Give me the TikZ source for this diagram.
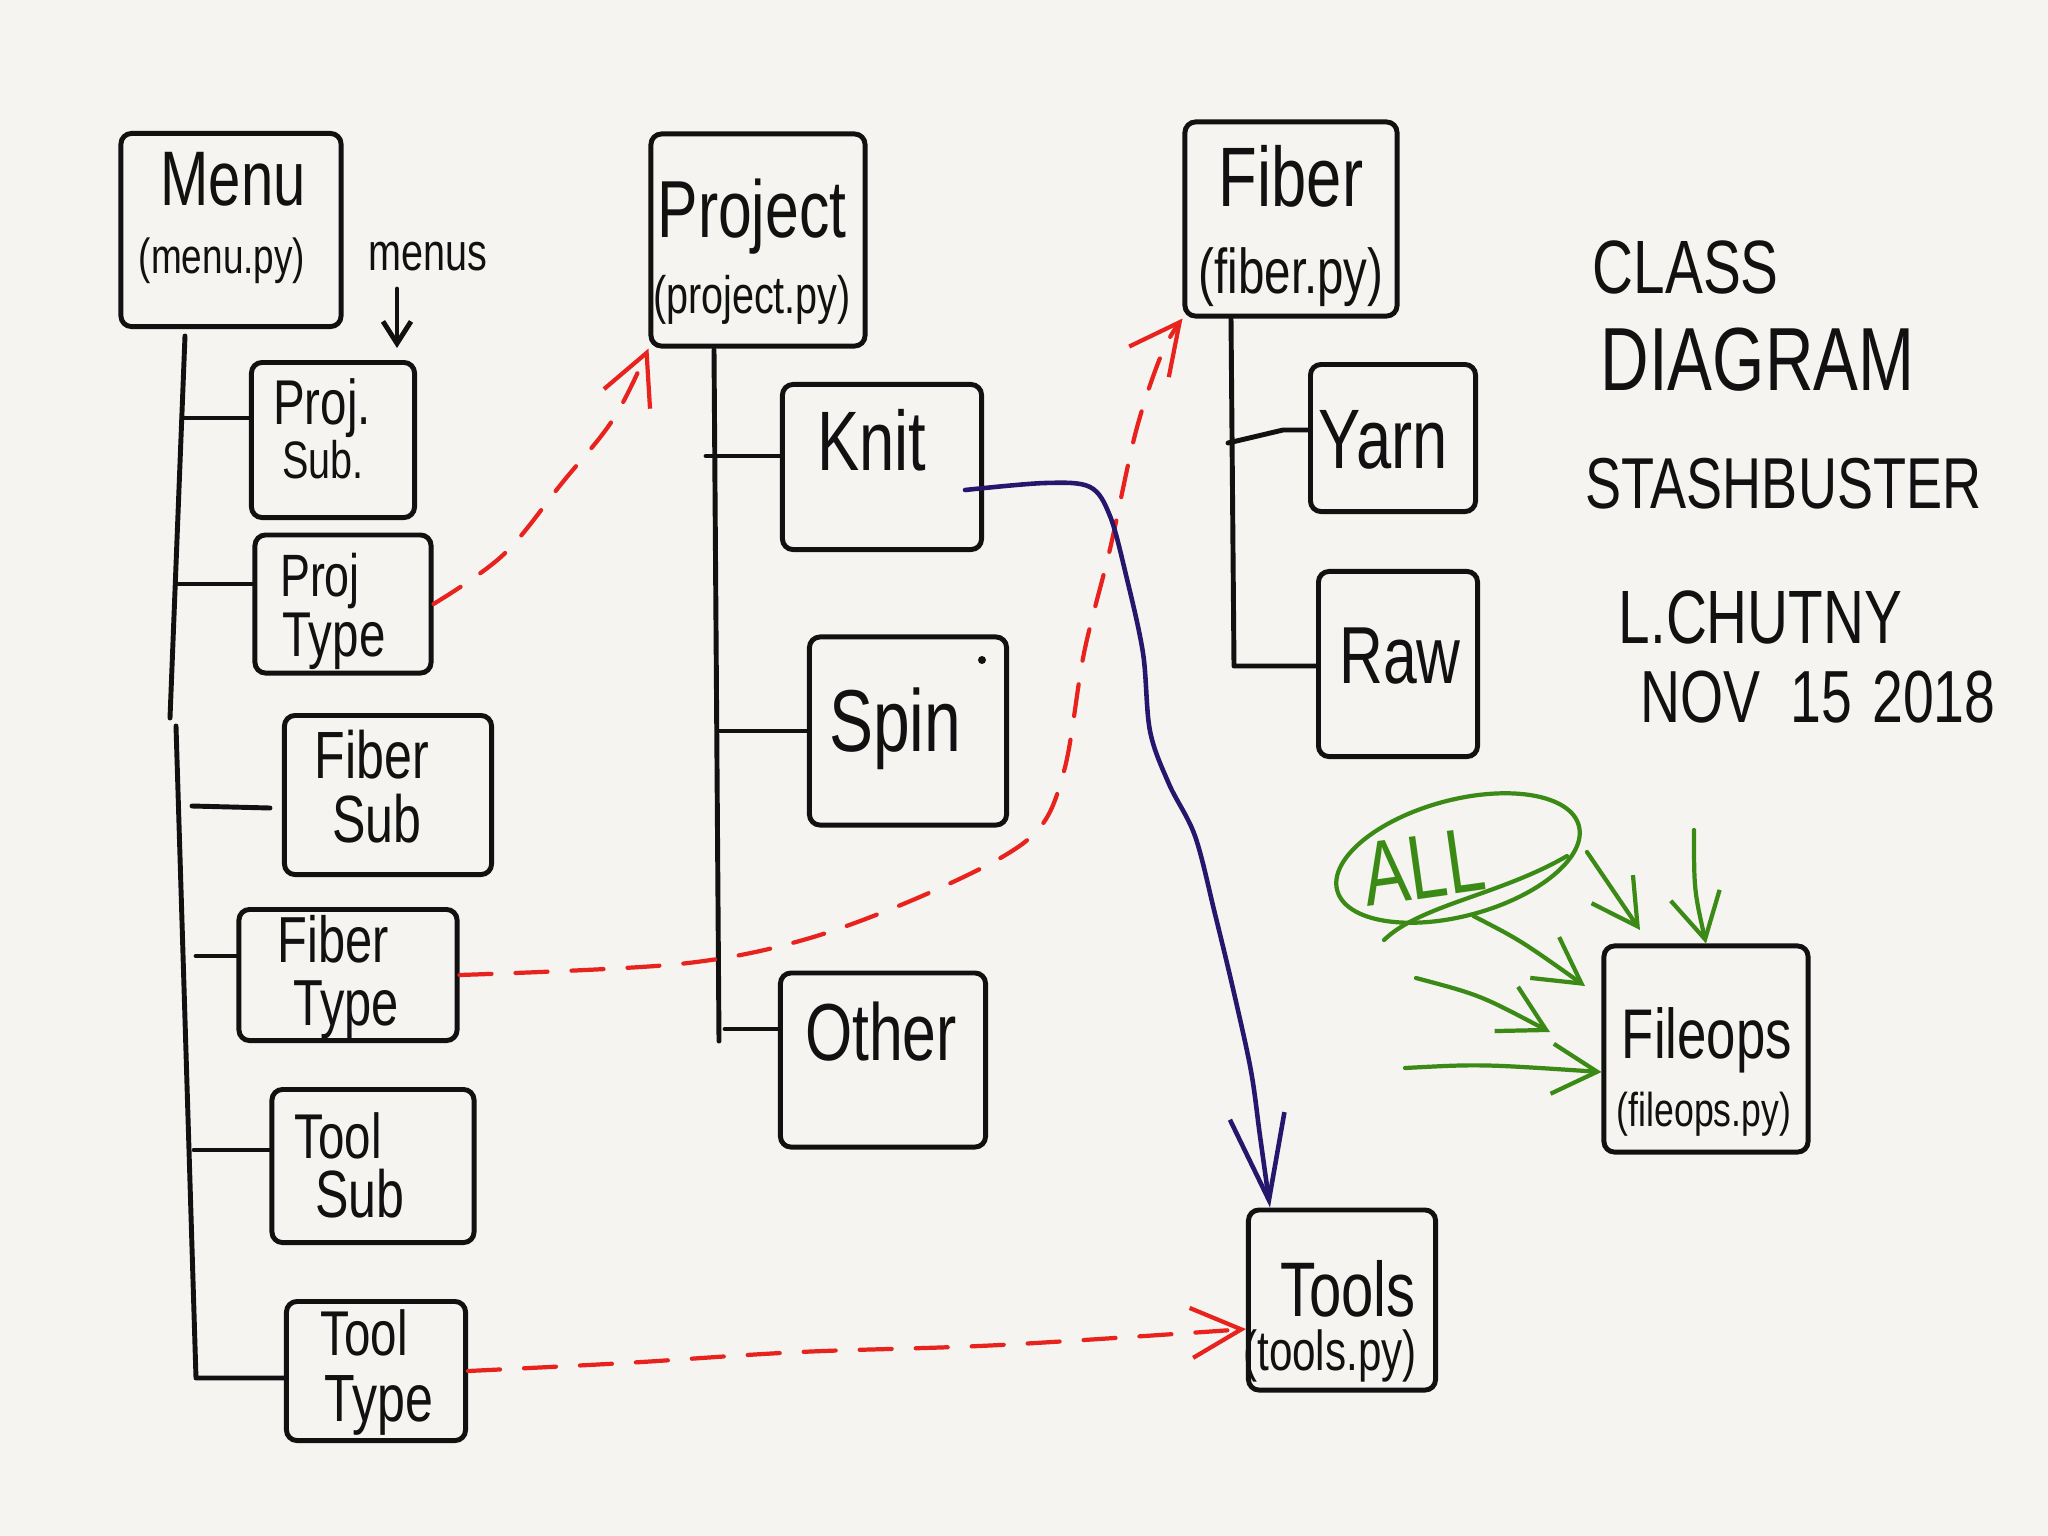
\documentclass[tikz,border=0pt]{standalone}
\usepackage{fontspec}
\setmainfont{Liberation Sans}[FakeStretch=0.75]
\usetikzlibrary{arrows.meta,shapes.geometric}
\definecolor{bg}{HTML}{F5F4F0}
\definecolor{pen}{HTML}{111111}
\definecolor{redpen}{HTML}{E8231E}
\definecolor{navypen}{HTML}{24176C}
\definecolor{greenpen}{HTML}{3B8A16}
\newcommand{\fsz}[1]{\fontsize{#1}{#1}\selectfont}
\begin{document}
\begin{tikzpicture}[x=0.01cm,y=-0.01cm,
  box/.style={draw=pen, line width=1.4pt, rounded corners=3pt, inner sep=0pt},
  lbl/.style={anchor=base, inner sep=0pt, text=pen},
  ttl/.style={anchor=base west, inner sep=0pt, text=pen},
  wire/.style={draw=pen, line width=1.4pt, line cap=round, line join=round},
  reddash/.style={draw=redpen, line width=1.2pt, line cap=round, dash pattern=on 0.32cm off 0.24cm, -{Straight Barb[length=5mm,width=5mm]}},
  navyarrow/.style={draw=navypen, line width=1.3pt, line cap=round, -{Straight Barb[length=8.5mm,width=5.5mm]}},
  garrow/.style={draw=greenpen, line width=1.2pt, line cap=round, -{Straight Barb[length=4.5mm,width=5mm]}},
  gline/.style={draw=greenpen, line width=1.2pt, line cap=round}
]
\fill[bg] (0,0) rectangle (2048,1536);
\useasboundingbox (0,0) rectangle (2048,1536);

% ---------- boxes ----------
\node[box, minimum width=2.20cm, minimum height=1.93cm] (menu) at (231,230) {};
\node[box, minimum width=1.63cm, minimum height=1.55cm] (projsub) at (333,440) {};
\node[box, minimum width=1.76cm, minimum height=1.38cm] (projtype) at (343,604) {};
\node[box, minimum width=2.07cm, minimum height=1.59cm] (fibersub) at (388,795) {};
\node[box, minimum width=2.18cm, minimum height=1.31cm] (fibertype) at (348,975) {};
\node[box, minimum width=2.02cm, minimum height=1.53cm] (toolsub) at (373,1166) {};
\node[box, minimum width=1.79cm, minimum height=1.39cm] (tooltype) at (376,1371) {};
\node[box, minimum width=2.14cm, minimum height=2.12cm] (project) at (758,240) {};
\node[box, minimum width=1.99cm, minimum height=1.65cm] (knit) at (882,467) {};
\node[box, minimum width=1.97cm, minimum height=1.88cm] (spin) at (908,731) {};
\node[box, minimum width=2.05cm, minimum height=1.74cm] (other) at (883,1060) {};
\node[box, minimum width=2.12cm, minimum height=1.94cm] (fiber) at (1291,219) {};
\node[box, minimum width=1.65cm, minimum height=1.47cm] (yarn) at (1393,438) {};
\node[box, minimum width=1.59cm, minimum height=1.85cm] (raw) at (1398,664) {};
\node[box, minimum width=1.87cm, minimum height=1.80cm] (tools) at (1342,1300) {};
\node[box, minimum width=2.04cm, minimum height=2.06cm] (fileops) at (1706,1049) {};

% ---------- box texts ----------
\node[lbl, font=\fsz{22}] (menu-a) at (233,205) {Menu};
\node[lbl, font=\fsz{14}] (menu-b) at (222,273) {(menu.py)};
\node[lbl, font=\fsz{15}] (menus) at (428,270) {menus};
\node[lbl, font=\fsz{18}] (projsub-a) at (322,424) {Proj.};
\node[lbl, font=\fsz{15}] (projsub-b) at (323,478) {Sub.};
\node[lbl, font=\fsz{17}] (projtype-a) at (320,596) {Proj};
\node[lbl, font=\fsz{18}] (projtype-b) at (334,656) {Type};
\node[lbl, font=\fsz{19}] (fibersub-a) at (372,778) {Fiber};
\node[lbl, font=\fsz{19}] (fibersub-b) at (377,842) {Sub};
\node[lbl, font=\fsz{18.5}] (fibertype-a) at (333,962) {Fiber};
\node[lbl, font=\fsz{18.5}] (fibertype-b) at (346,1025) {Type};
\node[lbl, font=\fsz{18}] (toolsub-a) at (338,1158) {Tool};
\node[lbl, font=\fsz{19}] (toolsub-b) at (360,1217) {Sub};
\node[lbl, font=\fsz{18}] (tooltype-a) at (364,1355) {Tool};
\node[lbl, font=\fsz{19}] (tooltype-b) at (379,1421) {Type};
\node[lbl, font=\fsz{23}] (project-a) at (752,237) {Project};
\node[lbl, font=\fsz{15}] (project-b) at (752,313) {(project.py)};
\node[lbl, font=\fsz{24}] (knit-a) at (872,470) {Knit};
\node[lbl, font=\fsz{25}] (spin-a) at (895,751) {Spin};
\node[lbl, font=\fsz{23}] (other-a) at (881,1060) {Other};
\node[lbl, font=\fsz{24}] (fiber-a) at (1291,206) {Fiber};
\node[lbl, font=\fsz{18}] (fiber-b) at (1291,293) {(fiber.py)};
\node[lbl, font=\fsz{24}] (yarn-a) at (1383,468) {Yarn};
\node[lbl, font=\fsz{23}] (raw-a) at (1400,683) {Raw};
\node[lbl, font=\fsz{22}] (tools-a) at (1348,1316) {Tools};
\node[lbl, font=\fsz{16}] (tools-b) at (1330,1370) {(tools.py)};
\node[lbl, font=\fsz{20}] (fileops-a) at (1707,1058) {Fileops};
\node[lbl, font=\fsz{13.5}] (fileops-b) at (1704,1126) {(fileops.py)};
\fill[pen] (982,660) circle (0.04cm);

% ---------- title ----------
\node[ttl, font=\fsz{21.5}] (t1) at (1592,293) {CLASS};
\node[ttl, font=\fsz{25.5}] (t2) at (1600,390) {DIAGRAM};
\node[ttl, font=\fsz{20.5}] (t3) at (1585,508) {STASHBUSTER};
\node[ttl, font=\fsz{21.5}] (t4) at (1618,643) {L.CHUTNY};
\node[ttl, font=\fsz{21}] (t5) at (1640,722) {NOV\hspace{0.3cm}15\hspace{0.2cm}2018};

% ---------- menus arrow ----------
\coordinate (ma0) at (397,289);
\coordinate (ma1) at (397,348);
\draw[wire, -{Straight Barb[length=2.2mm,width=2.8mm]}] (ma0) -- (ma1);

% ---------- menu tree ----------
\coordinate (mt1) at (185,336);
\coordinate (mt2) at (170,718);
\coordinate (mt3) at (176,726);
\coordinate (mt4) at (196,1378);
\draw[wire] (mt1) -- (mt2);
\draw[wire] (mt3) -- (mt4) -- (mt4 -| tooltype.west);
\coordinate (c1) at (182,418);
\coordinate (c2) at (176,584);
\coordinate (c3) at (192,806);
\coordinate (c3e) at (270,808);
\coordinate (c4) at (196,956);
\coordinate (c5) at (194,1150);
\draw[wire] (c1) -- (c1 -| projsub.west);
\draw[wire] (c2) -- (c2 -| projtype.west);
\draw[wire] (c3) -- (c3e);
\draw[wire] (c4) -- (c4 -| fibertype.west);
\draw[wire] (c5) -- (c5 -| toolsub.west);

% ---------- project tree ----------
\coordinate (pt1) at (714,350);
\coordinate (pt2) at (719,1041);
\draw[wire] (pt1) -- (pt2);
\coordinate (p1) at (706,456);
\coordinate (p2) at (718,731);
\coordinate (p3) at (725,1029);
\draw[wire] (p1) -- (p1 -| knit.west);
\draw[wire] (p2) -- (p2 -| spin.west);
\draw[wire] (p3) -- (p3 -| other.west);

% ---------- fiber tree ----------
\coordinate (ft1) at (1231,318);
\coordinate (ft2) at (1234,666);
\draw[wire] (ft1) -- (ft2) -- (ft2 -| raw.west);
\coordinate (f1) at (1228,443);
\coordinate (f1m) at (1283,430);
\draw[wire] (f1) -- (f1m) -- (f1m -| yarn.west);

% ---------- red dashed arrows ----------
\draw[reddash] plot[smooth, tension=0.6] coordinates {(projtype.east) (503,555) (562,483) (614,418) (project.south west)};
\draw[reddash] plot[smooth, tension=0.55] coordinates {(fibertype.east) (679,964) (810,938) (940,888) (1032,836) (1064,771) (1084,653) (1110,549) (1136,431) (1162,353) (fiber.south west)};
\coordinate (r3end) at ([yshift=-0.29cm]tools.west);
\draw[reddash] plot[smooth, tension=0.6] coordinates {(tooltype.east) (625,1363) (800,1352) (1000,1345) (r3end)};

% ---------- navy arrow ----------
\coordinate (nstart) at ([xshift=-0.19cm,yshift=-0.23cm]knit.east);
\coordinate (nend) at ([xshift=-0.72cm]tools.north);
\draw[navyarrow] plot[smooth, tension=0.55] coordinates {(nstart) (1045,483) (1090,487) (1110,516) (1126,575) (1143,653) (1150,731) (1169,784) (1195,836) (1215,914) (1234,993) (1251,1071) (1260,1136) (nend)};

% ---------- green ----------
\node[draw=greenpen, line width=1.2pt, ellipse, minimum width=2.5cm, minimum height=1.16cm, inner sep=0pt, rotate=15] (all) at (1458,858) {};
\node[anchor=base, inner sep=0pt, text=greenpen, font=\fsz{26}, rotate=8] (all-t) at (1428,898) {ALL};
\draw[gline] (1567,856) .. controls (1500,895) and (1420,905) .. (1384,940);
\coordinate (ga) at (1585,986);
\coordinate (gb0) at (1416,978);
\coordinate (gb1) at (1550,1032);
\coordinate (gc0) at (1405,1068);
\coordinate (gd0) at (1587,852);
\coordinate (gd1) at (1640,930);
\coordinate (ge0) at (1694,830);
\draw[garrow] (all.south) .. controls (1520,940) .. (ga);
\draw[garrow] (gb0) .. controls (1480,995) .. (gb1);
\draw[garrow] (gc0) .. controls (1480,1064) .. ([yshift=-0.23cm]fileops.west);
\draw[garrow] (gd0) -- (gd1);
\draw[garrow] (ge0) .. controls (1694,890) .. (fileops.north);
\end{tikzpicture}
\end{document}
